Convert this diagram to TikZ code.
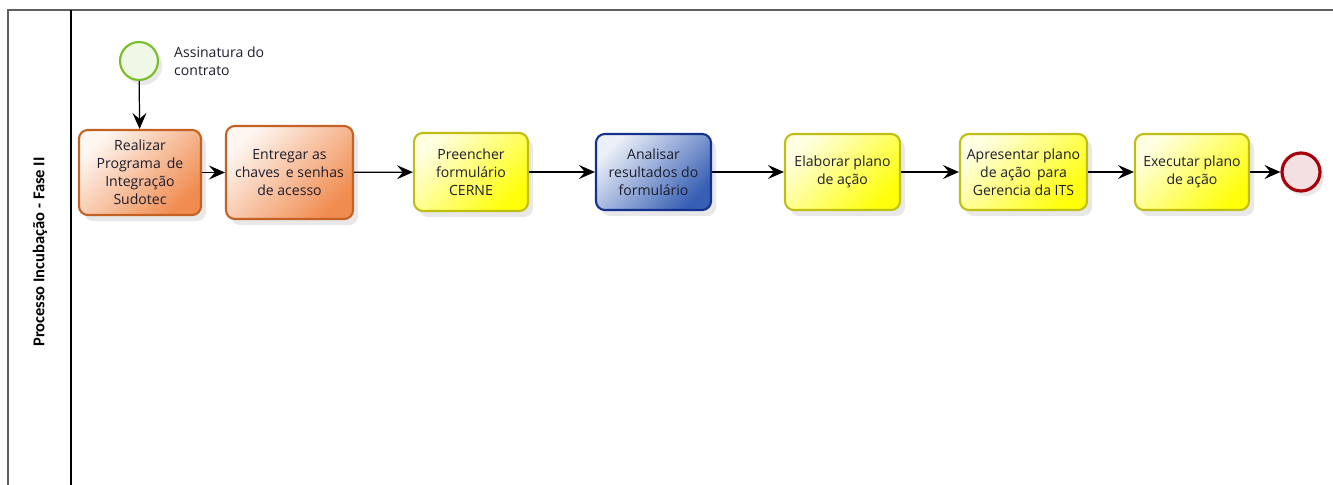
\documentclass[tikz,border=0pt]{standalone}
\usepackage{fontspec}
\setmainfont{Open Sans}
\newfontfamily\lanefont{Carlito}
\usetikzlibrary{arrows.meta,shadows}

\definecolor{orangeline}{RGB}{196,98,38}
\definecolor{orangefill}{RGB}{240,140,80}
\definecolor{yellowline}{RGB}{190,190,20}
\definecolor{yellowfill}{RGB}{255,255,10}
\definecolor{blueline}{RGB}{20,50,140}
\definecolor{bluefill}{RGB}{55,95,180}
\definecolor{startline}{RGB}{120,190,40}
\definecolor{endline}{RGB}{165,0,10}
\definecolor{frameline}{RGB}{95,95,95}
\definecolor{labeltext}{RGB}{30,30,45}

\begin{document}
\begin{tikzpicture}[
    task/.style={draw, line width=1.2pt, rounded corners=5pt, align=center,
      inner sep=2pt, font=\fontsize{8.0}{10.2}\selectfont, text=labeltext,
      drop shadow={opacity=0.18, shadow xshift=0.1cm, shadow yshift=-0.12cm}},
    orangetask/.style={task, draw=orangeline, top color=white!92!orangefill,
      bottom color=orangefill, shading angle=45},
    yellowtask/.style={task, draw=yellowline, top color=white!88!yellowfill,
      bottom color=yellowfill, shading angle=45},
    bluetask/.style={task, draw=blueline, top color=white!90!bluefill,
      bottom color=bluefill, shading angle=45},
    event/.style={circle, minimum size=0.76cm, inner sep=0pt,
      drop shadow={opacity=0.18, shadow xshift=0.08cm, shadow yshift=-0.1cm}},
    flow/.style={-{Stealth[length=3.2mm, width=2.8mm, inset=1.2mm]}, line width=0.7pt}
  ]
  \useasboundingbox (0,0) rectangle (26.66,-9.7);

  % pool
  \draw[frameline, line width=1.2pt] (0.16,-9.7) -- (0.16,-0.2) -- (26.66,-0.2);
  \draw[line width=0.8pt] (1.42,-0.2) -- (1.42,-9.7);
  \node[rotate=90, font=\lanefont\bfseries\fontsize{9.4}{10}\selectfont] at (0.80,-5.04) (lane) {Processo Incubação - Fase II};

  % events
  \node[event, draw=startline, line width=1.2pt, fill=startline!12] at (2.78,-1.22) (start) {};
  \node[anchor=west, align=left, font=\fontsize{8.0}{10.2}\selectfont, text=labeltext] at (3.36,-1.23) (startlabel) {Assinatura do\\contrato};
  \node[event, draw=endline, line width=1.8pt, fill=endline!12] at (26.02,-3.44) (finish) {};

  % tasks
  \node[orangetask, minimum width=2.44cm, minimum height=1.70cm] at (2.80,-3.45) (programa) {Realizar\\Programa\, de\\Integração\\Sudotec};
  \node[orangetask, minimum width=2.54cm, minimum height=1.86cm] at (5.79,-3.45) (chaves) {Entregar as\\chaves\, e senhas\\de acesso};
  \node[yellowtask, minimum width=2.28cm, minimum height=1.56cm] at (9.42,-3.44) (cerne) {Preencher\\formulário\\CERNE};
  \node[bluetask, minimum width=2.30cm, minimum height=1.52cm] at (13.07,-3.44) (analisar) {Analisar\\resultados do\\formulário};
  \node[yellowtask, minimum width=2.30cm, minimum height=1.52cm] at (16.85,-3.44) (elaborar) {Elaborar plano\\de ação};
  \node[yellowtask, minimum width=2.54cm, minimum height=1.52cm] at (20.47,-3.44) (apresentar) {Apresentar plano\\de ação\, para\\Gerencia da ITS};
  \node[yellowtask, minimum width=2.28cm, minimum height=1.52cm] at (23.84,-3.44) (executar) {Executar plano\\de ação};

  % flows
  \draw[flow] (start) -- (programa);
  \draw[flow] (programa) -- (chaves);
  \draw[flow] (chaves) -- (cerne);
  \draw[flow] (cerne) -- (analisar);
  \draw[flow] (analisar) -- (elaborar);
  \draw[flow] (elaborar) -- (apresentar);
  \draw[flow] (apresentar) -- (executar);
  \draw[flow] (executar) -- (finish);
\end{tikzpicture}
\end{document}
